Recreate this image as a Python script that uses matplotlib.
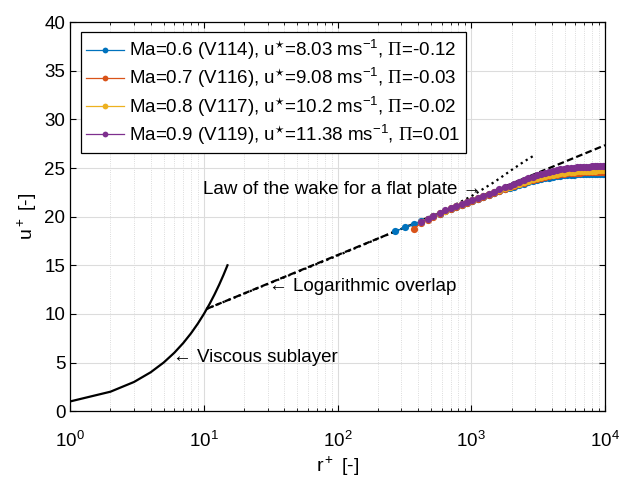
import numpy as np
import matplotlib
matplotlib.use("Agg")
import matplotlib.pyplot as plt
from matplotlib.ticker import LogLocator, NullFormatter

plt.rcParams['font.family'] = ['Liberation Sans', 'DejaVu Sans']
plt.rcParams['mathtext.fontset'] = 'custom'
plt.rcParams['mathtext.rm'] = 'Liberation Sans'
plt.rcParams['mathtext.it'] = 'Liberation Sans:italic'
plt.rcParams['mathtext.cal'] = 'Liberation Serif'

# Viscous sublayer u+ = r+
visc_r = [1, 2, 3, 4, 5, 6, 7, 8, 9, 10, 11, 12, 13, 14, 15]
visc_u = [1, 2, 3, 4, 5, 6, 7, 8, 9, 10, 11, 12, 13, 14, 15]

# Logarithmic overlap (end points)
log_r = [10.4, 10000]
log_u = [10.5, 27.35]

# Law of the wake for a flat plate
wake_r = [10.4, 100, 300, 600, 1000, 1500, 2000, 2500, 2950]
wake_u = [10.5, 16.0, 18.75, 20.5, 22.1, 23.6, 24.8, 25.7, 26.3]

# measured profiles
r_plus = [270, 320, 370, 420, 470, 520, 580, 640, 700, 770, 850, 930, 1020,
          1120, 1230, 1350, 1480, 1620, 1770, 1930, 2100, 2280, 2470, 2670,
          2880, 3100, 3330, 3570, 3820, 4080, 4350, 4630, 4920, 5220, 5530,
          5850, 6180, 6520, 6870, 7230, 7600, 7980, 8370, 8770, 9180, 9600,
          10000]
nan = np.nan
u_v114 = [18.5, 18.9, 19.25, 19.55, 19.8, 20.05, 20.3, 20.55, 20.75, 20.95,
          21.2, 21.4, 21.6, 21.8, 22.0, 22.2, 22.4, 22.6, 22.8, 22.95, 23.1,
          23.25, 23.4, 23.55, 23.65, 23.75, 23.85, 23.95, 24.0, 24.08, 24.15,
          24.2, 24.25, 24.28, 24.3, 24.33, 24.35, 24.36, 24.37, 24.38, 24.38,
          24.39, 24.39, 24.4, 24.4, 24.4, 24.4]
u_v116 = [nan, nan, 18.75, 19.3, 19.7, 20.0, 20.3, 20.55, 20.8, 21.0, 21.25,
          21.45, 21.65, 21.85, 22.05, 22.25, 22.45, 22.65, 22.85, 23.0, 23.2,
          23.35, 23.5, 23.65, 23.8, 23.9, 24.0, 24.1, 24.18, 24.25, 24.3,
          24.36, 24.4, 24.44, 24.47, 24.5, 24.52, 24.54, 24.56, 24.57, 24.58,
          24.59, 24.6, 24.6, 24.6, 24.6, 24.6]
u_v117 = [nan, nan, nan, 19.5, 19.8, 20.1, 20.35, 20.6, 20.85, 21.05, 21.3,
          21.5, 21.7, 21.9, 22.1, 22.3, 22.5, 22.7, 22.9, 23.1, 23.25, 23.4,
          23.55, 23.7, 23.85, 23.95, 24.05, 24.15, 24.25, 24.32, 24.4, 24.46,
          24.52, 24.56, 24.6, 24.63, 24.66, 24.68, 24.7, 24.71, 24.72, 24.73,
          24.74, 24.75, 24.75, 24.75, 24.75]
u_v119 = [nan, nan, nan, 19.45, 19.8, 20.1, 20.4, 20.65, 20.9, 21.1, 21.35,
          21.55, 21.75, 21.95, 22.15, 22.35, 22.55, 22.8, 23.0, 23.2, 23.4,
          23.58, 23.76, 23.93, 24.1, 24.25, 24.4, 24.52, 24.62, 24.7, 24.78,
          24.85, 24.91, 24.96, 25.0, 25.04, 25.07, 25.1, 25.12, 25.14, 25.15,
          25.16, 25.17, 25.18, 25.19, 25.2, 25.2]

series = [u_v114, u_v116, u_v117, u_v119]
labels = [r'Ma=0.6 (V114), u$^{\star}$=8.03 ms$^{-1}$, $\mathcal{Π}$=-0.12',
          r'Ma=0.7 (V116), u$^{\star}$=9.08 ms$^{-1}$, $\mathcal{Π}$=-0.03',
          r'Ma=0.8 (V117), u$^{\star}$=10.2 ms$^{-1}$, $\mathcal{Π}$=-0.02',
          r'Ma=0.9 (V119), u$^{\star}$=11.38 ms$^{-1}$, $\mathcal{Π}$=0.01']
colors = ['#0072BD', '#D95319', '#EDB120', '#7E2F8E']

fig = plt.figure(figsize=(6.27, 4.82), dpi=100)
ax = fig.add_axes([0.112, 0.147, 0.853, 0.807])

ax.plot(visc_r, visc_u, 'k-', lw=1.6)
ax.plot(log_r, log_u, 'k--', lw=1.6, dashes=(3, 1.5))
ax.plot(wake_r, wake_u, 'k:', lw=1.6)

for u, lab, c in zip(series, labels, colors):
    ax.plot(r_plus, u, '-o', color=c, lw=0.9, ms=5.2, mew=0, label=lab)

fs = 13.5
ax.text(9.9, 22.8, 'Law of the wake for a flat plate \u2192', fontsize=fs, va='center')
ax.text(30.5, 12.8, '\u2190 Logarithmic overlap', fontsize=fs, va='center')
ax.text(5.9, 5.5, '\u2190 Viscous sublayer', fontsize=fs, va='center')

ax.set_xscale('log')
ax.set_xlim(1, 1e4)
ax.set_ylim(0, 40)
ax.set_yticks(np.arange(0, 41, 5))
ax.xaxis.set_minor_locator(LogLocator(base=10, subs=np.arange(2, 10), numticks=20))
ax.xaxis.set_minor_formatter(NullFormatter())
ax.grid(True, which='major', color='#dcdcdc', lw=0.8)
ax.grid(True, which='minor', axis='x', color='#d0d0d0', lw=0.6, ls=':')
ax.set_axisbelow(True)
ax.tick_params(which='both', direction='in', top=True, right=True, labelsize=fs)
ax.tick_params(which='major', length=4)
ax.tick_params(which='minor', length=2)
ax.tick_params(axis='x', which='major', pad=14)
for s in ax.spines.values():
    s.set_linewidth(0.9)

ax.set_xlabel(r'r$^+$ [-]', fontsize=fs + 0.5, labelpad=3)
ax.set_ylabel(r'u$^+$ [-]', fontsize=fs + 0.5, labelpad=4)

leg = ax.legend(loc='upper left', fontsize=fs, fancybox=False, edgecolor='k',
                framealpha=1, handlelength=2.0, borderpad=0.3, labelspacing=0.22,
                handletextpad=0.3, borderaxespad=0.55, markerscale=0.8)
leg.get_frame().set_linewidth(0.9)

plt.savefig('out.png', dpi=100)
plt.close()
